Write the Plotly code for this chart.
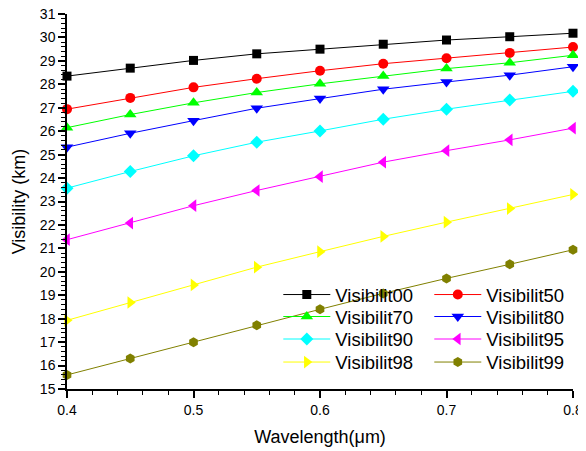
import plotly.graph_objects as go

wavelength = [0.40, 0.45, 0.50, 0.55, 0.60, 0.65, 0.70, 0.75, 0.80]

series_names = ["Visibilit00", "Visibilit50", "Visibilit70", "Visibilit80",
                "Visibilit90", "Visibilit95", "Visibilit98", "Visibilit99"]

vis00 = [28.35, 28.69, 29.02, 29.30, 29.50, 29.71, 29.89, 30.03, 30.18]
vis50 = [26.94, 27.42, 27.87, 28.24, 28.58, 28.88, 29.11, 29.34, 29.59]
vis70 = [26.15, 26.71, 27.21, 27.65, 28.02, 28.36, 28.67, 28.92, 29.24]
vis80 = [25.32, 25.91, 26.45, 26.98, 27.39, 27.79, 28.10, 28.39, 28.75]
vis90 = [23.57, 24.28, 24.95, 25.53, 26.01, 26.51, 26.94, 27.33, 27.70]
vis95 = [21.37, 22.08, 22.82, 23.47, 24.06, 24.68, 25.17, 25.63, 26.13]
vis98 = [17.93, 18.69, 19.44, 20.20, 20.86, 21.51, 22.12, 22.70, 23.30]
vis99 = [15.60, 16.30, 17.00, 17.72, 18.40, 19.08, 19.72, 20.32, 20.94]

values = [vis00, vis50, vis70, vis80, vis90, vis95, vis98, vis99]

colors = ["#000000", "#FF0000", "#00FF00", "#0000FF",
          "#00FFFF", "#FF00FF", "#FFFF00", "#808000"]
symbols = ["square", "circle", "triangle-up", "triangle-down",
           "diamond", "triangle-left", "triangle-right", "hexagon"]
sizes = [9, 10, 11, 11, 10, 11, 11, 10]

FONT = "Liberation Sans, Arial, sans-serif"

# legend grid: two columns, four rows (one legend box per entry)
legend_cols = [0.4176, 0.716]
legend_rows = [0.3013, 0.2427, 0.1827, 0.1213]

fig = go.Figure()
legend_layout = {}
for i, (name, ys, c, s, sz) in enumerate(zip(series_names, values, colors, symbols, sizes)):
    lid = "legend" if i == 0 else f"legend{i + 1}"
    fig.add_trace(go.Scatter(
        x=wavelength, y=ys, name=name, mode="lines+markers",
        line=dict(color=c, width=1),
        marker=dict(symbol=s, size=sz, color=c, line=dict(width=0)),
        cliponaxis=False, legend=lid, showlegend=True,
    ))
    legend_layout[lid] = dict(
        x=legend_cols[i % 2], y=legend_rows[i // 2],
        xanchor="left", yanchor="top",
        bgcolor="rgba(0,0,0,0)", borderwidth=0,
        font=dict(family=FONT, size=18.5, color="black"), itemwidth=47,
    )

axis_common = dict(
    showline=True, linecolor="black", linewidth=1.5, mirror=False,
    ticks="outside", ticklen=7, tickwidth=1.5, tickcolor="black",
    showgrid=False, zeroline=False, automargin=False,
    ticklabeloverflow="allow",
    tickfont=dict(family=FONT, size=14, color="black"),
)

# the page adds an 8px body margin, so the figure is sized/margined to compensate
fig.update_layout(
    width=578, height=443,
    margin=dict(l=59, r=13, t=6, b=62),
    showlegend=True,
    paper_bgcolor="white", plot_bgcolor="white",
    font=dict(family=FONT, color="black"),
    xaxis=dict(range=[0.4, 0.8], dtick=0.1, tick0=0.4, tickformat=".1f",
               title=dict(text="Wavelength(μm)", font=dict(family=FONT, size=18), standoff=14),
               minor=dict(dtick=0.02, ticks="outside", ticklen=4, tickwidth=1, tickcolor="black"),
               **axis_common),
    yaxis=dict(range=[15, 31], dtick=1,
               title=dict(text="Visibility (km)", font=dict(family=FONT, size=18), standoff=10),
               minor=dict(dtick=0.2, ticks="outside", ticklen=4, tickwidth=1, tickcolor="black"),
               **axis_common),
    **legend_layout,
)

fig.write_html("out.html")
